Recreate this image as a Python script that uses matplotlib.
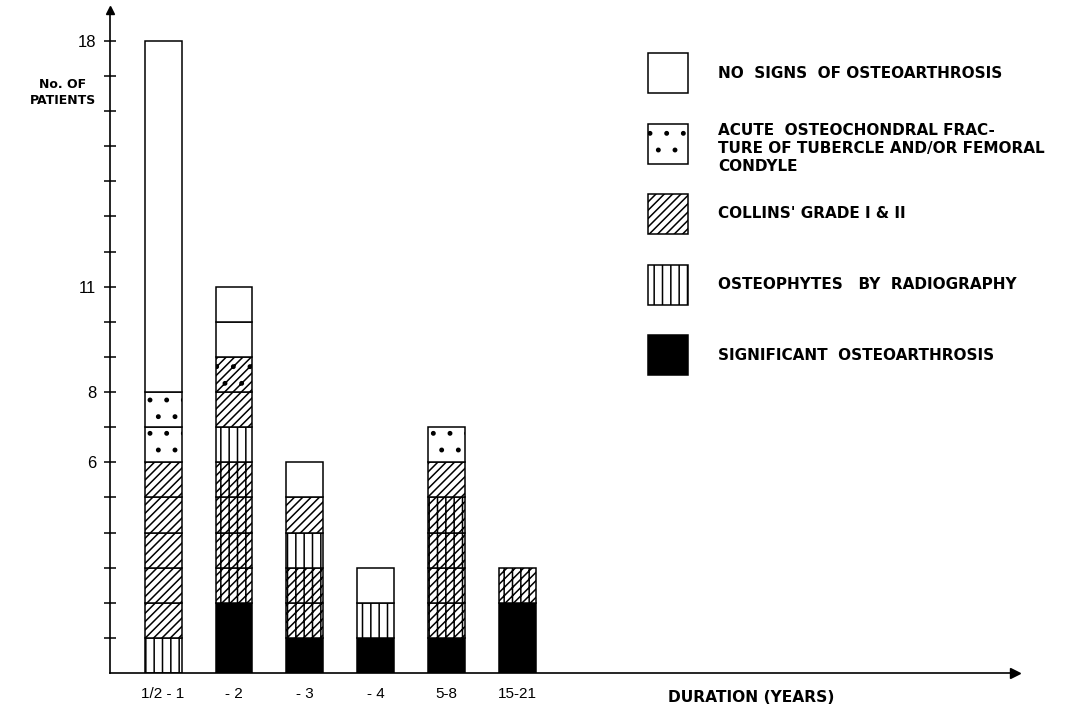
import matplotlib
matplotlib.use("Agg")
import matplotlib.pyplot as plt
from matplotlib.patches import Rectangle

plt.rcParams['font.family'] = ['Liberation Sans', 'DejaVu Sans']
plt.rcParams['hatch.linewidth'] = 1.1

# duration groups on the x axis
durations = ["1/2 - 1", "- 2", "- 3", "- 4", "5-8", "15-21"]

# cells of each bar, bottom to top (one cell per patient, merged where undivided)
bar_kinds = [
    ["osteo", "collins", "collins", "collins", "collins", "collins", "acute", "acute", "none"],
    ["sig", "collins+osteo", "collins+osteo", "collins+osteo", "collins+osteo",
     "osteo", "collins", "collins+acute", "none", "none"],
    ["sig", "collins+osteo", "collins+osteo", "osteo", "collins", "none"],
    ["sig", "osteo", "none"],
    ["sig", "collins+osteo", "collins+osteo", "collins+osteo", "collins+osteo", "collins", "acute"],
    ["sig", "collins+osteo"],
]
bar_counts = [
    [1, 1, 1, 1, 1, 1, 1, 1, 10],
    [2, 1, 1, 1, 1, 1, 1, 1, 1, 1],
    [1, 1, 1, 1, 1, 1],
    [1, 1, 1],
    [1, 1, 1, 1, 1, 1, 1],
    [2, 1],
]

y_ticks = list(range(1, 19))
y_labelled = [6, 8, 11, 18]

legend_kinds = ["none", "acute", "collins", "osteo", "sig"]
legend_labels = [
    "NO  SIGNS  OF OSTEOARTHROSIS",
    "ACUTE  OSTEOCHONDRAL FRAC-\nTURE OF TUBERCLE AND/OR FEMORAL\nCONDYLE",
    "COLLINS' GRADE I & II",
    "OSTEOPHYTES   BY  RADIOGRAPHY",
    "SIGNIFICANT  OSTEOARTHROSIS",
]

hatches = {"none": "", "acute": ".", "collins": "////", "osteo": "||",
           "collins+osteo": "////||", "collins+acute": "////.", "sig": ""}


def cell_style(kind):
    face = "black" if kind == "sig" else "white"
    return dict(facecolor=face, edgecolor="black", hatch=hatches[kind], linewidth=1.1)


W, H = 1066, 709
fig = plt.figure(figsize=(W / 100, H / 100), dpi=100)
ax = fig.add_axes([110 / W, 36 / H, 905 / W, 663 / H])

for i, (kinds, counts) in enumerate(zip(bar_kinds, bar_counts)):
    bottom = 0
    for kind, n in zip(kinds, counts):
        ax.bar(i, n, bottom=bottom, width=0.52, **cell_style(kind))
        bottom += n

ax.set_xlim(-0.75, 12.03)
ax.set_ylim(0, 18.88)

for side in ["top", "right"]:
    ax.spines[side].set_visible(False)
for side in ["left", "bottom"]:
    ax.spines[side].set_linewidth(1.2)
ax.plot(1, 0, ">k", markersize=7, transform=ax.transAxes, clip_on=False)
ax.plot(0, 1, "^k", markersize=6, transform=ax.transAxes, clip_on=False)

ax.set_yticks(y_ticks)
ax.set_yticklabels([str(t) if t in y_labelled else "" for t in y_ticks])
ax.tick_params(axis="y", direction="inout", length=8, width=1.1, labelsize=12, pad=6)
ax.set_xticks(range(len(durations)))
ax.set_xticklabels(durations)
ax.tick_params(axis="x", length=0, labelsize=11, pad=10)

bold = dict(family="DejaVu Sans", fontweight="bold")
fig.text(96 / W, 1 - 92 / H, "No. OF\nPATIENTS", ha="right", va="center",
         fontsize=9, multialignment="center", linespacing=1.3, **bold)
fig.text(668 / W, 1 - 698 / H, "DURATION (YEARS)", ha="left", va="center",
         fontsize=11.2, **bold)

# legend drawn as a column of swatches in pixel coordinates
lax = fig.add_axes([0, 0, 1, 1])
lax.set_xlim(0, W)
lax.set_ylim(H, 0)
lax.axis("off")
for k, (kind, label) in enumerate(zip(legend_kinds, legend_labels)):
    yc = 73 + 70.5 * k
    lax.add_patch(Rectangle((648, yc - 20), 40, 40, **cell_style(kind)))
    lax.text(718, yc + (5 if k == 1 else 0), label, ha="left", va="center",
             fontsize=11, linespacing=1.25, **bold)

fig.savefig("out.png", dpi=100)
